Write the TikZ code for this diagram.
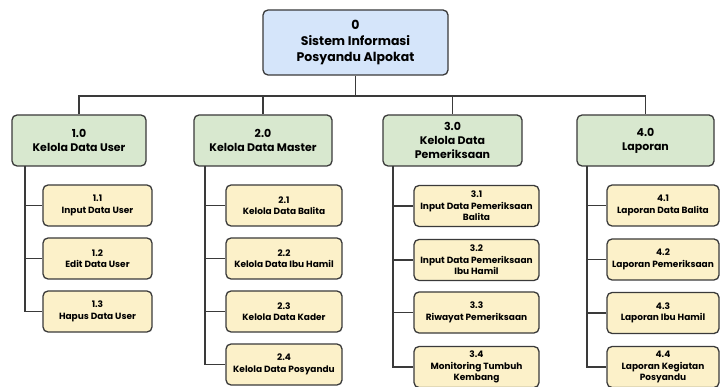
\documentclass[tikz,border=0pt]{standalone}
\usepackage{fontspec}
\setmainfont{Poppins}
\definecolor{rootfill}{HTML}{D5E5FA}
\definecolor{grnfill}{HTML}{D8E8CF}
\definecolor{ylwfill}{HTML}{FCF1C9}
\definecolor{edge}{HTML}{3A3A3A}
\tikzset{
  box/.style={draw=edge, line width=1.3pt, rounded corners=5pt, align=center, inner sep=1pt, font=\bfseries},
  rootbox/.style={box, fill=rootfill, minimum width=185pt, minimum height=65pt, font=\bfseries\fontsize{12.5}{16}\selectfont},
  lonebox/.style={box, fill=grnfill, minimum height=51pt, font=\bfseries\fontsize{11}{14}\selectfont},
  kidbox/.style={box, fill=ylwfill, minimum height=41pt, font=\bfseries\fontsize{9}{11.5}\selectfont},
  link/.style={draw=edge, line width=1.3pt}
}
\begin{document}
\begin{tikzpicture}[x=1pt,y=-1pt]
\useasboundingbox (0,0) rectangle (720,387);
\fill[white] (0,0) rectangle (720,387);
% root
\node[rootbox] (root) at (355.5,42.5) {0\\Sistem Informasi\\Posyandu Alpokat};
% level 1
\node[lonebox, minimum width=134pt] (n1) at (79,140.5) {1.0\\Kelola Data User};
\node[lonebox, minimum width=138pt] (n2) at (263,140.5) {2.0\\Kelola Data Master};
\node[lonebox, minimum width=139pt] (n3) at (452.5,140.5) {3.0\\Kelola Data\\Pemeriksaan};
\node[lonebox, minimum width=137pt] (n4) at (645.5,140.5) {4.0\\Laporan};
% children 1
\node[kidbox, minimum width=109pt] (c11) at (97.5,205.5) {1.1\\Input Data User};
\node[kidbox, minimum width=109pt] (c12) at (97.5,258.5) {1.2\\Edit Data User};
\node[kidbox, minimum width=109pt] (c13) at (97.5,311.5) {1.3\\Hapus Data User};
% children 2
\node[kidbox, minimum width=116pt] (c21) at (284,205.5) {2.1\\Kelola Data Balita};
\node[kidbox, minimum width=116pt] (c22) at (284,258.5) {2.2\\Kelola Data Ibu Hamil};
\node[kidbox, minimum width=116pt] (c23) at (284,311.5) {2.3\\Kelola Data Kader};
\node[kidbox, minimum width=116pt] (c24) at (284,364.5) {2.4\\Kelola Data Posyandu};
% children 3
\node[kidbox, minimum width=125pt] (c31) at (476.5,206) {3.1\\Input Data Pemeriksaan\\Balita};
\node[kidbox, minimum width=125pt] (c32) at (476.5,260) {3.2\\Input Data Pemeriksaan\\Ibu Hamil};
\node[kidbox, minimum width=125pt] (c33) at (476.5,312.5) {3.3\\Riwayat Pemeriksaan};
\node[kidbox, minimum width=125pt] (c34) at (476.5,367) {3.4\\Monitoring Tumbuh\\Kembang};
% children 4
\node[kidbox, minimum width=112pt] (c41) at (663,205.5) {4.1\\Laporan Data Balita};
\node[kidbox, minimum width=112pt] (c42) at (663,259.5) {4.2\\Laporan Pemeriksaan};
\node[kidbox, minimum width=112pt] (c43) at (663,313) {4.3\\Laporan Ibu Hamil};
\node[kidbox, minimum width=112pt] (c44) at (663,367) {4.4\\Laporan Kegiatan\\Posyandu};
% bus
\coordinate (bus) at (0,96);
\draw[link] (root.south) -- (root.south |- bus);
\draw[link] (n1.north) -- (n1.north |- bus) -- (n4.north |- bus) -- (n4.north);
\draw[link] (n2.north) -- (n2.north |- bus);
\draw[link] (n3.north) -- (n3.north |- bus);
% trunks
\coordinate (t1) at (25,166);
\coordinate (t2) at (205,166);
\coordinate (t3) at (393,166);
\coordinate (t4) at (587,166);
\draw[link] (t1) |- (c13.west);
\draw[link] (t1 |- c11.west) -- (c11.west);
\draw[link] (t1 |- c12.west) -- (c12.west);
\draw[link] (t2) |- (c24.west);
\draw[link] (t2 |- c21.west) -- (c21.west);
\draw[link] (t2 |- c22.west) -- (c22.west);
\draw[link] (t2 |- c23.west) -- (c23.west);
\draw[link] (t3) |- (c34.west);
\draw[link] (t3 |- c31.west) -- (c31.west);
\draw[link] (t3 |- c32.west) -- (c32.west);
\draw[link] (t3 |- c33.west) -- (c33.west);
\draw[link] (t4) |- (c44.west);
\draw[link] (t4 |- c41.west) -- (c41.west);
\draw[link] (t4 |- c42.west) -- (c42.west);
\draw[link] (t4 |- c43.west) -- (c43.west);
\end{tikzpicture}
\end{document}
